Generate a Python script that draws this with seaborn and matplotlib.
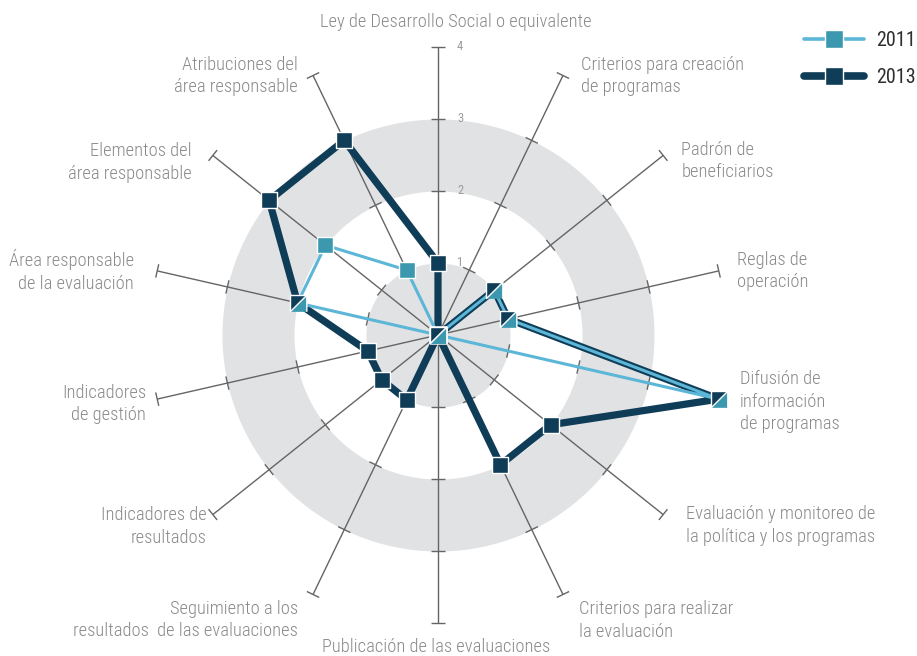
import numpy as np
import pandas as pd
import matplotlib
matplotlib.use("Agg")
import matplotlib.pyplot as plt
import seaborn as sns
from matplotlib.lines import Line2D

# Componentes evaluados (sentido horario desde arriba)
categorias = [
    "Ley de Desarrollo Social o equivalente",
    "Criterios para creación\nde programas",
    "Padrón de\nbeneficiarios",
    "Reglas de\noperación",
    "Difusión de\ninformación\nde programas",
    "Evaluación y monitoreo de\nla política y los programas",
    "Criterios para realizar\nla evaluación",
    "Publicación de las evaluaciones",
    "Seguimiento a los\nresultados  de las evaluaciones",
    "Indicadores de\nresultados",
    "Indicadores\nde gestión",
    "Área responsable\nde la evaluación",
    "Elementos del\nárea responsable",
    "Atribuciones del\nárea responsable",
]
valores_2011 = [0, 0, 1, 1, 4, 0, 0, 0, 0, 0, 0, 2, 2, 1]
valores_2013 = [1, 0, 1, 1, 4, 2, 2, 0, 1, 1, 1, 2, 3, 3]
niveles = [1, 2, 3, 4]
anios = ["2011", "2013"]

sns.set_style("white")
plt.rcParams["font.family"] = ["Roboto Condensed", "Roboto", "DejaVu Sans"]

CLARO_LINEA = "#5cb6d7"
CLARO_MARCA = "#3b98ae"
OSCURO = "#0f3d58"
GRIS_BANDA = "#e1e2e3"
GRIS_EJE = "#656565"
GRIS_TEXTO = "#8a8a8a"

n = len(categorias)
angulos = np.linspace(0, 2 * np.pi, n, endpoint=False)

fig = plt.figure(figsize=(9.17, 6.56), dpi=100)
ax = fig.add_axes([150 / 917, 33 / 656, 576 / 917, 576 / 656], projection="polar")
ax.set_theta_zero_location("N")
ax.set_theta_direction(-1)

# Bandas alternas de fondo
theta_fino = np.linspace(0, 2 * np.pi, 721)
for r0, r1 in [(0, 1), (2, 3)]:
    ax.fill_between(theta_fino, r0, r1, color=GRIS_BANDA, lw=0, zorder=0)

# Ejes radiales con marcas en cada nivel
h = 0.095
for a in angulos:
    ax.plot([a, a], [0, max(niveles)], color=GRIS_EJE, lw=1.0, zorder=1,
            clip_on=False, solid_capstyle="butt")
    for r in niveles:
        d = np.arctan(h / r)
        rr = np.hypot(r, h)
        ax.plot([a - d, a + d], [rr, rr], color=GRIS_EJE, lw=1.0, zorder=1,
                clip_on=False, solid_capstyle="butt")


def cerrar(valores):
    return pd.DataFrame({
        "theta": np.append(angulos, 2 * np.pi),
        "valor": np.append(valores, valores[0]),
    })


d11 = cerrar(valores_2011)
d13 = cerrar(valores_2013)

sns.lineplot(data=d13, x="theta", y="valor", sort=False, estimator=None,
             color=OSCURO, lw=5.2, ax=ax, zorder=3, legend=False,
             solid_joinstyle="miter")
sns.lineplot(data=d11, x="theta", y="valor", sort=False, estimator=None,
             color=CLARO_LINEA, lw=2.2, ax=ax, zorder=4, legend=False,
             solid_joinstyle="miter")

v11 = np.array(valores_2011)
v13 = np.array(valores_2013)
iguales = v11 == v13

tam = 12.0 ** 2
sns.scatterplot(x=angulos[~iguales], y=v13[~iguales], marker="s", s=tam,
                color=OSCURO, edgecolor="white", linewidth=1.0, ax=ax,
                zorder=5, clip_on=False, legend=False)
sns.scatterplot(x=angulos[~iguales], y=v11[~iguales], marker="s", s=tam,
                color=CLARO_MARCA, edgecolor="white", linewidth=1.0, ax=ax,
                zorder=6, clip_on=False, legend=False)
# Donde ambos años coinciden, el marcador se divide en diagonal
sup_izq = [(-1, -1), (-1, 1), (1, 1)]
inf_der = [(-1, -1), (1, 1), (1, -1)]
sns.scatterplot(x=angulos[iguales], y=v13[iguales], marker=sup_izq, s=tam,
                color=OSCURO, edgecolor="white", linewidth=1.0, ax=ax,
                zorder=7, clip_on=False, legend=False)
sns.scatterplot(x=angulos[iguales], y=v11[iguales], marker=inf_der, s=tam,
                color=CLARO_MARCA, edgecolor="white", linewidth=1.0, ax=ax,
                zorder=7, clip_on=False, legend=False)

ax.set_ylim(0, max(niveles))
ax.set_xlabel("")
ax.set_ylabel("")
ax.axis("off")

# Etiquetas de nivel sobre el eje superior
for r in niveles:
    ax.annotate(str(r), xy=(0, r), xytext=(19, 0), textcoords="offset pixels",
                ha="left", va="center", fontsize=9, color="#9b9b9b",
                annotation_clip=False)

# Etiquetas de las categorías
desplaz = [
    (18, 25, "center"), (18, -0.5, "left"), (18, -5.5, "left"), (18, 0, "left"),
    (21, -2.5, "left"), (23, -11, "left"), (16, -26, "left"), (-2, -24.5, "center"),
    (-15, -25.5, "right"), (-6, -12, "right"), (-11, -5, "right"),
    (-23, 0, "right"), (-21, -7, "right"), (-15, -0.5, "right"),
]
for a, txt, (dx, dy, ha) in zip(angulos, categorias, desplaz):
    ax.annotate(txt, xy=(a, max(niveles)), xytext=(dx, dy),
                textcoords="offset pixels", ha=ha, va="center",
                multialignment=ha if ha != "center" else "center",
                fontsize=13.3, fontweight="light", color=GRIS_TEXTO,
                linespacing=1.3, annotation_clip=False)

# Leyenda
manejadores = [
    Line2D([], [], color=CLARO_LINEA, lw=2.6, marker="s", ms=12.5,
           mfc=CLARO_MARCA, mec="white", mew=1.0),
    Line2D([], [], color=OSCURO, lw=5.5, marker="s", ms=12.5,
           mfc=OSCURO, mec="white", mew=1.0),
]
fig.legend(handles=manejadores, labels=anios, loc="upper left",
           bbox_to_anchor=(804 / 917, 1 - 31 / 656), frameon=False,
           handlelength=3.0, handletextpad=0.6, labelspacing=0.88,
           fontsize=14.4, labelcolor="#2e2e2e", borderaxespad=0,
           borderpad=0)

fig.savefig("out.png", dpi=100)
